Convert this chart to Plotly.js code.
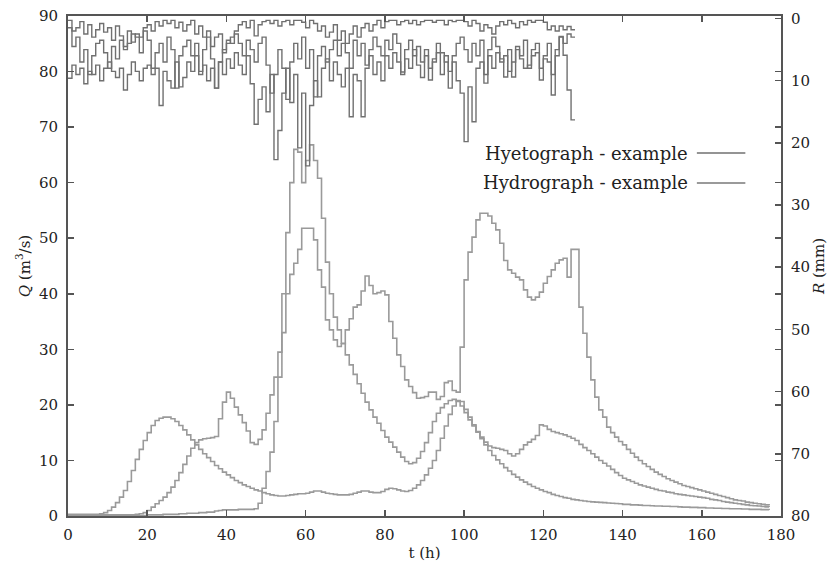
<!DOCTYPE html>
<html>
<head>
<meta charset="utf-8">
<script src="https://cdn.plot.ly/plotly-3.0.1.min.js"></script>
<style>html,body{margin:0;padding:0;background:#fff;}#chart{width:834px;height:563px;}</style>
</head>
<body>
<div id="chart"></div>
<script>
// Hydrographs Q (m3/s), hourly values from t = 0 h
const hydroA = [
0.3,0.3,0.3,0.3,0.3,0.3,0.3,0.3,0.4,0.6,
1.0,1.6,2.4,3.4,4.6,6.2,8.2,10.2,12.0,13.6,
15.0,16.3,17.2,17.6,17.8,17.8,17.5,17.0,16.3,15.5,
14.6,13.7,12.8,12.0,11.2,10.5,9.8,9.1,8.5,7.9,
7.4,6.9,6.4,6.0,5.6,5.3,5.0,4.7,4.5,4.2,
4.0,3.8,3.7,3.6,3.6,3.7,3.8,3.9,4.0,4.0,
4.1,4.3,4.5,4.5,4.3,4.1,4.0,3.9,3.8,3.8,
3.8,3.9,4.1,4.3,4.5,4.5,4.3,4.2,4.2,4.4,
4.8,5.0,4.9,4.7,4.5,4.4,4.6,5.0,5.6,6.4,
7.4,8.6,10.0,11.8,14.0,16.2,18.3,19.8,20.8,20.6,
19.2,17.8,16.4,15.1,13.9,12.8,11.8,10.9,10.1,9.4,
8.7,8.1,7.5,7.0,6.5,6.1,5.7,5.3,5.0,4.7,
4.4,4.2,3.9,3.7,3.5,3.3,3.2,3.0,2.9,2.8,
2.7,2.6,2.55,2.5,2.45,2.4,2.35,2.3,2.25,2.2,
2.1,2.1,2.0,2.0,1.95,1.9,1.9,1.85,1.8,1.8,
1.75,1.75,1.7,1.7,1.65,1.6,1.6,1.55,1.55,1.5,
1.5,1.45,1.45,1.4,1.4,1.35,1.35,1.3,1.3,1.3,
1.25,1.25,1.2,1.2,1.2,1.15,1.15,1.1];
const hydroB = [
0.2,0.2,0.2,0.2,0.2,0.2,0.2,0.2,0.2,0.2,
0.2,0.2,0.2,0.2,0.2,0.2,0.2,0.3,0.4,0.6,
1.0,1.6,2.2,2.8,3.4,4.2,5.2,6.4,7.8,9.3,
10.8,12.2,13.2,13.7,13.9,14.0,14.1,14.3,17.5,20.5,
22.3,21.2,19.6,18.2,16.8,15.3,13.2,12.9,13.8,15.5,
18.5,21.8,25.0,29.5,40.0,51.0,60.0,66.0,65.5,60.0,
64.0,66.8,64.0,60.8,53.6,45.7,40.0,35.8,33.5,31.1,
29.0,27.2,25.5,23.8,22.1,20.5,19.1,17.8,16.7,15.4,
14.2,13.3,12.4,11.5,10.6,9.8,9.4,9.6,10.4,11.6,
13.2,15.0,17.0,18.5,19.5,20.2,20.8,21.0,20.6,19.8,
18.6,17.3,16.2,15.2,14.2,13.3,12.6,12.3,12.2,12.0,
11.8,11.2,10.8,11.2,12.0,12.8,13.3,13.8,14.5,16.4,
16.2,15.6,15.2,15.0,14.8,14.6,14.3,14.0,13.6,12.9,
12.3,11.8,11.2,10.6,10.0,9.5,9.0,8.4,7.8,7.3,
6.8,6.5,6.2,5.9,5.6,5.4,5.2,5.0,4.8,4.6,
4.5,4.3,4.2,4.0,3.9,3.8,3.7,3.6,3.5,3.4,
3.3,3.2,3.0,2.9,2.8,2.6,2.5,2.4,2.3,2.2,
2.1,2.0,1.9,1.85,1.8,1.7,1.65,1.6];
const hydroC = [
0.1,0.1,0.1,0.1,0.1,0.1,0.1,0.1,0.1,0.1,
0.1,0.1,0.1,0.1,0.1,0.1,0.1,0.1,0.1,0.1,
0.2,0.2,0.2,0.2,0.3,0.3,0.3,0.3,0.4,0.4,
0.5,0.5,0.5,0.6,0.6,0.7,0.7,0.9,1.0,1.1,
1.1,1.1,1.1,1.2,1.2,1.2,1.2,1.3,2.3,5.0,
8.0,11.5,17.0,25.0,33.0,40.0,43.5,45.5,48.0,51.8,
51.8,51.8,49.7,44.3,41.2,35.3,33.5,31.7,30.5,31.0,
33.5,35.5,37.6,38.0,40.5,43.2,41.5,40.0,40.2,40.5,
39.8,35.0,32.0,29.0,26.9,24.5,23.3,22.2,21.2,21.3,
21.5,22.3,22.3,21.0,21.5,24.0,24.3,22.6,22.3,30.4,
42.5,47.5,50.2,53.3,54.5,54.5,54.0,52.7,51.5,49.1,
46.0,44.3,43.7,43.0,42.5,40.7,39.4,38.9,39.4,40.3,
41.9,43.1,44.3,45.5,46.1,46.4,43.0,48.0,48.0,37.6,
32.9,28.6,24.5,21.4,19.1,17.8,16.0,15.0,14.2,13.4,
12.8,12.0,11.3,10.6,10.0,9.4,8.9,8.4,7.9,7.5,
7.1,6.7,6.4,6.1,5.8,5.5,5.3,5.1,4.9,4.7,
4.5,4.3,4.1,3.9,3.7,3.5,3.3,3.1,2.9,2.8,
2.7,2.5,2.4,2.3,2.2,2.1,2.0,1.9];

// Hyetographs R (mm), hourly values from t = 0 h
const hyetoA = [
0.3,2.0,1.5,0.5,2.5,1.0,3.0,1.8,0.8,2.2,
1.5,3.5,1.2,2.8,4.5,2.0,3.8,2.5,3.0,1.5,
1.0,2.0,0.5,1.2,0.3,0.8,0.3,1.5,0.6,2.0,
1.0,0.3,2.5,1.2,3.0,2.0,4.5,3.0,2.5,5.5,
3.5,4.0,2.0,1.0,0.5,1.5,0.3,2.8,1.0,0.5,
0.3,0.8,0.3,1.2,0.5,0.3,1.0,0.3,0.3,0.6,
1.5,0.3,0.8,2.0,1.2,3.0,2.2,1.0,3.5,2.0,
4.0,2.5,1.2,3.0,1.5,0.8,2.0,1.0,0.3,1.5,
0.5,0.3,0.3,1.0,0.5,0.3,0.8,0.3,1.0,0.5,
0.3,0.3,0.6,0.3,0.3,1.0,0.3,0.5,0.3,0.3,
0.5,1.2,0.3,0.8,2.0,1.0,1.5,2.5,1.2,0.5,
1.0,0.3,0.8,1.5,0.5,1.0,0.3,0.6,0.3,0.3,
0.6,1.8,1.2,2.0,1.2,1.8,1.3,1.8];
const hyetoB = [
1.5,4.5,3.0,7.0,5.0,9.0,6.0,4.0,3.5,5.5,
8.0,4.5,6.5,3.5,5.0,4.0,2.5,3.0,5.5,2.0,
3.5,8.0,5.5,4.0,7.0,3.0,5.0,11.2,6.0,4.5,
3.5,6.0,4.0,8.5,5.0,3.0,6.5,11.2,7.0,5.0,
4.0,3.0,2.5,4.0,6.0,3.5,5.0,7.0,4.0,3.0,
7.5,12.0,9.0,5.0,8.0,13.0,7.0,4.0,6.5,3.0,
8.0,5.0,12.6,6.0,4.5,7.0,5.0,3.5,6.0,4.0,
5.5,8.0,3.5,6.0,4.0,7.5,5.0,3.0,4.5,6.0,
3.5,5.0,2.5,4.0,8.6,5.0,3.5,6.0,4.5,7.0,
5.0,9.9,6.5,4.0,5.5,7.0,11.2,6.0,4.0,3.0,
5.0,7.0,4.0,6.0,3.5,10.4,5.0,3.0,4.5,6.5,
9.4,5.0,9.4,4.5,6.0,3.5,8.0,5.0,4.0,9.9,
6.0,4.0,12.3,5.0,3.0,4.0,2.5,3.0];
const hyetoC = [
9.6,7.5,9.0,8.0,10.5,8.5,9.0,7.5,10.0,8.0,
7.0,8.5,9.5,8.0,11.5,9.0,7.0,8.5,10.0,8.0,
7.5,9.0,8.0,14.0,8.5,10.0,11.2,7.0,11.0,9.5,
7.0,8.5,6.0,9.0,7.5,10.0,8.0,11.2,7.0,9.0,
6.5,8.0,5.5,7.5,9.0,6.0,10.5,17.0,13.0,11.0,
15.0,9.0,22.7,18.0,12.0,8.0,13.5,9.0,20.8,12.0,
23.7,14.0,10.0,12.6,8.0,6.5,10.0,7.0,9.0,11.0,
8.0,15.8,9.0,10.0,15.8,8.0,6.0,9.0,7.0,10.0,
6.0,8.0,5.5,7.0,9.0,6.5,8.0,5.0,7.5,9.5,
6.0,8.0,7.0,5.5,9.0,6.0,8.5,7.0,10.0,12.0,
19.8,11.0,16.6,8.0,7.0,9.0,6.0,8.0,5.5,7.0,
6.0,8.5,7.0,5.0,6.5,8.0,7.5,6.0,5.5,8.0,
6.5,7.0,9.0,6.0,2.9,5.9,11.5,16.3];

const xTicks = [0,20,40,60,80,100,120,140,160,180];
const qTicks = [0,10,20,30,40,50,60,70,80,90];
const rTicks = [0,10,20,30,40,50,60,70,80];
const legendLabels = ["Hyetograph - example", "Hydrograph - example"];

const hours = n => Array.from({length: n}, (_, i) => i);

const hydroColor = "#9a9a9a";
const hyetoColor = "#707070";
const FONT = "DejaVu Serif, serif";

function hydro(y) {
  return {x: hours(y.length), y: y, type: "scatter", mode: "lines",
    line: {shape: "hv", color: hydroColor, width: 1.6}, yaxis: "y", hoverinfo: "skip"};
}
function hyeto(y) {
  const xs = hours(y.length + 1);
  return {x: xs, y: y.concat([y[y.length - 1]]), type: "scatter", mode: "lines",
    line: {shape: "hv", color: hyetoColor, width: 1.4}, yaxis: "y2", hoverinfo: "skip"};
}

const data = [hydro(hydroA), hydro(hydroB), hydro(hydroC), hyeto(hyetoA), hyeto(hyetoB), hyeto(hyetoC)];

const axisCommon = {
  showline: true, linecolor: "#555", linewidth: 2, ticks: "inside", ticklen: 6, tickwidth: 1.5,
  tickcolor: "#555", showgrid: false, zeroline: false,
  tickfont: {family: FONT, size: 15, color: "#222"}
};

const layout = {
  width: 834, height: 563,
  margin: {l: 68, r: 53, t: 16, b: 47},
  paper_bgcolor: "#fff", plot_bgcolor: "#fff",
  showlegend: false,
  font: {family: FONT, size: 15, color: "#222"},
  xaxis: Object.assign({}, axisCommon, {
    range: [0, 180], tickvals: xTicks, ticktext: xTicks.map(String), mirror: "ticks",
    ticklabelstandoff: 4,
    title: {text: "t (h)", font: {family: FONT, size: 15, color: "#222"}, standoff: 4}
  }),
  yaxis: Object.assign({}, axisCommon, {
    range: [0, 90], tickvals: qTicks, ticktext: qTicks.map(String), mirror: "ticks",
    ticklabelstandoff: 5,
    title: {text: "<i>Q</i> (m<sup>3</sup>/s)", font: {family: FONT, size: 15, color: "#222"}, standoff: 5}
  }),
  yaxis2: Object.assign({}, axisCommon, {
    overlaying: "y", side: "right", range: [80, -0.4], tickvals: rTicks, ticktext: rTicks.map(String),
    ticklabelstandoff: 5,
    title: {text: "<i>R</i> (mm)", font: {family: FONT, size: 15, color: "#222"}, standoff: 3}
  }),
  annotations: [
    {xref: "paper", yref: "paper", x: 0.872, y: 0.726, xanchor: "right", yanchor: "middle",
     text: legendLabels[0], showarrow: false, font: {family: FONT, size: 18, color: "#222"}},
    {xref: "paper", yref: "paper", x: 0.872, y: 0.666, xanchor: "right", yanchor: "middle",
     text: legendLabels[1], showarrow: false, font: {family: FONT, size: 18, color: "#222"}}
  ],
  shapes: [
    {type: "line", xref: "paper", yref: "paper", x0: 0.882, x1: 0.950, y0: 0.726, y1: 0.726,
     line: {color: hyetoColor, width: 1.4}},
    {type: "line", xref: "paper", yref: "paper", x0: 0.882, x1: 0.950, y0: 0.666, y1: 0.666,
     line: {color: hydroColor, width: 1.8}}
  ]
};

Plotly.newPlot("chart", data, layout, {staticPlot: true, displayModeBar: false});
</script>
</body>
</html>
